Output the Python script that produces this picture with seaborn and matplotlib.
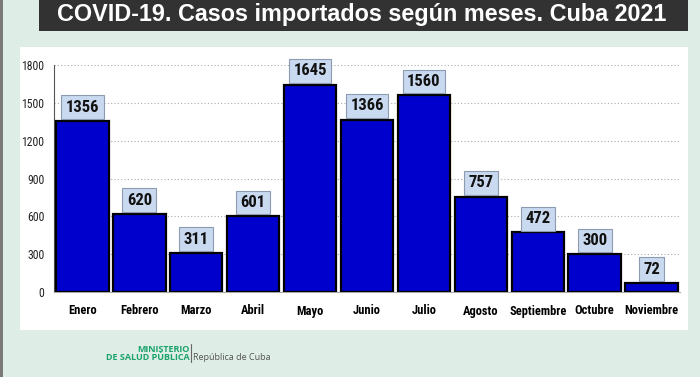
import matplotlib
matplotlib.use("Agg")
import matplotlib.pyplot as plt
import seaborn as sns
import pandas as pd
from matplotlib.patches import Rectangle
from matplotlib import font_manager

months = ["Enero", "Febrero", "Marzo", "Abril", "Mayo", "Junio", "Julio",
          "Agosto", "Septiembre", "Octubre", "Noviembre"]
cases = [1356, 620, 311, 601, 1645, 1366, 1560, 757, 472, 300, 72]
yticks = [0, 300, 600, 900, 1200, 1500, 1800]
title = "COVID-19. Casos importados según meses. Cuba 2021"

sns.set_style("white")
names = {f.name for f in font_manager.fontManager.ttflist}
narrow = "Liberation Sans"
for cand in ["Liberation Sans Narrow", "Arimo Narrow", "Roboto Condensed", "PT Sans Narrow",
             "Archivo Narrow", "Barlow Semi Condensed", "Asap Condensed"]:
    if cand in names:
        narrow = cand
        break
plt.rcParams["font.family"] = [narrow, "DejaVu Sans"]

df = pd.DataFrame({"mes": months, "casos": cases})

fig = plt.figure(figsize=(7.0, 3.77), dpi=100, facecolor="#deede6")
# white panel
fig.patches.append(Rectangle((20/700, 1-330/377), 668/700, 283/377, transform=fig.transFigure,
                             facecolor="white", edgecolor="none", zorder=-10))
# left border strip
fig.patches.append(Rectangle((0, 0), 3/700, 1, transform=fig.transFigure,
                             facecolor="#7a7a7a", edgecolor="none", zorder=-9))
# title bar
fig.patches.append(Rectangle((39/700, 1-31/377), 649/700, 31/377, transform=fig.transFigure,
                             facecolor="#333232", edgecolor="none", zorder=-10))
fig.text(362/700, 1-15/377, title, color="white", fontsize=16.8, fontweight="bold",
         ha="center", va="center", family=["Liberation Sans", "DejaVu Sans"])

ax = fig.add_axes([54/700, 1-292/377, 626/700, 227/377])
ax.set_facecolor("none")
sns.barplot(data=df, x="mes", y="casos", color="#0000cc", saturation=1, width=0.92,
            edgecolor="black", linewidth=1.6, ax=ax, zorder=3)
ax.set_ylim(0, 1800)
ax.set_xlim(-0.5, len(months) - 0.5)
ax.set_yticks(yticks)
ax.set_yticklabels([str(v) for v in yticks], fontsize=8.5, color="#222222")
ax.set_xlabel("")
ax.set_ylabel("")
ax.tick_params(axis="x", length=0, labelsize=9, pad=9, colors="black")
ax.set_xticks(range(len(months)))
ax.set_xticklabels(months, fontweight="bold")
ax.set_xticks([i + 0.5 for i in range(-1, len(months))], minor=True)
ax.tick_params(axis="x", which="minor", length=4, color="#aaaaaa", direction="out")
ax.tick_params(axis="y", length=4, color="#555555", direction="out", pad=3)
ax.grid(axis="y", linestyle=(0, (1, 2)), color="#aaaaaa", linewidth=0.8, zorder=0)
for s in ["top", "right"]:
    ax.spines[s].set_visible(False)
ax.spines["left"].set_color("#555555")
ax.spines["bottom"].set_color("#aaaaaa")

for i, v in enumerate(cases):
    ax.annotate(str(v), (i, v), xytext=(0, 4.5), textcoords="offset points",
                ha="center", va="bottom", fontsize=12, fontweight="bold", color="#111111",
                bbox=dict(boxstyle="square,pad=0.26", facecolor="#c9d9ef", edgecolor="#8c9bb0",
                          linewidth=0.8), zorder=5)

fig.text(190/700, 1-349/377, "MINISTERIO", color="#1aa36b", fontsize=6.5, fontweight="bold",
         ha="right", va="center", family=["Open Sans", "DejaVu Sans"])
fig.text(190/700, 1-357/377, "DE SALUD PÚBLICA", color="#1aa36b", fontsize=6.5, fontweight="bold",
         ha="right", va="center", family=["Open Sans", "DejaVu Sans"])
fig.lines.append(plt.Line2D([191/700, 191/700], [1-362/377, 1-344/377], transform=fig.transFigure,
                            color="#666666", linewidth=0.8))
fig.text(193/700, 1-357/377, "República de Cuba", color="#555555", fontsize=6.5,
         ha="left", va="center", family=["Open Sans", "DejaVu Sans"])

fig.savefig("out.png", dpi=100, facecolor=fig.get_facecolor())
